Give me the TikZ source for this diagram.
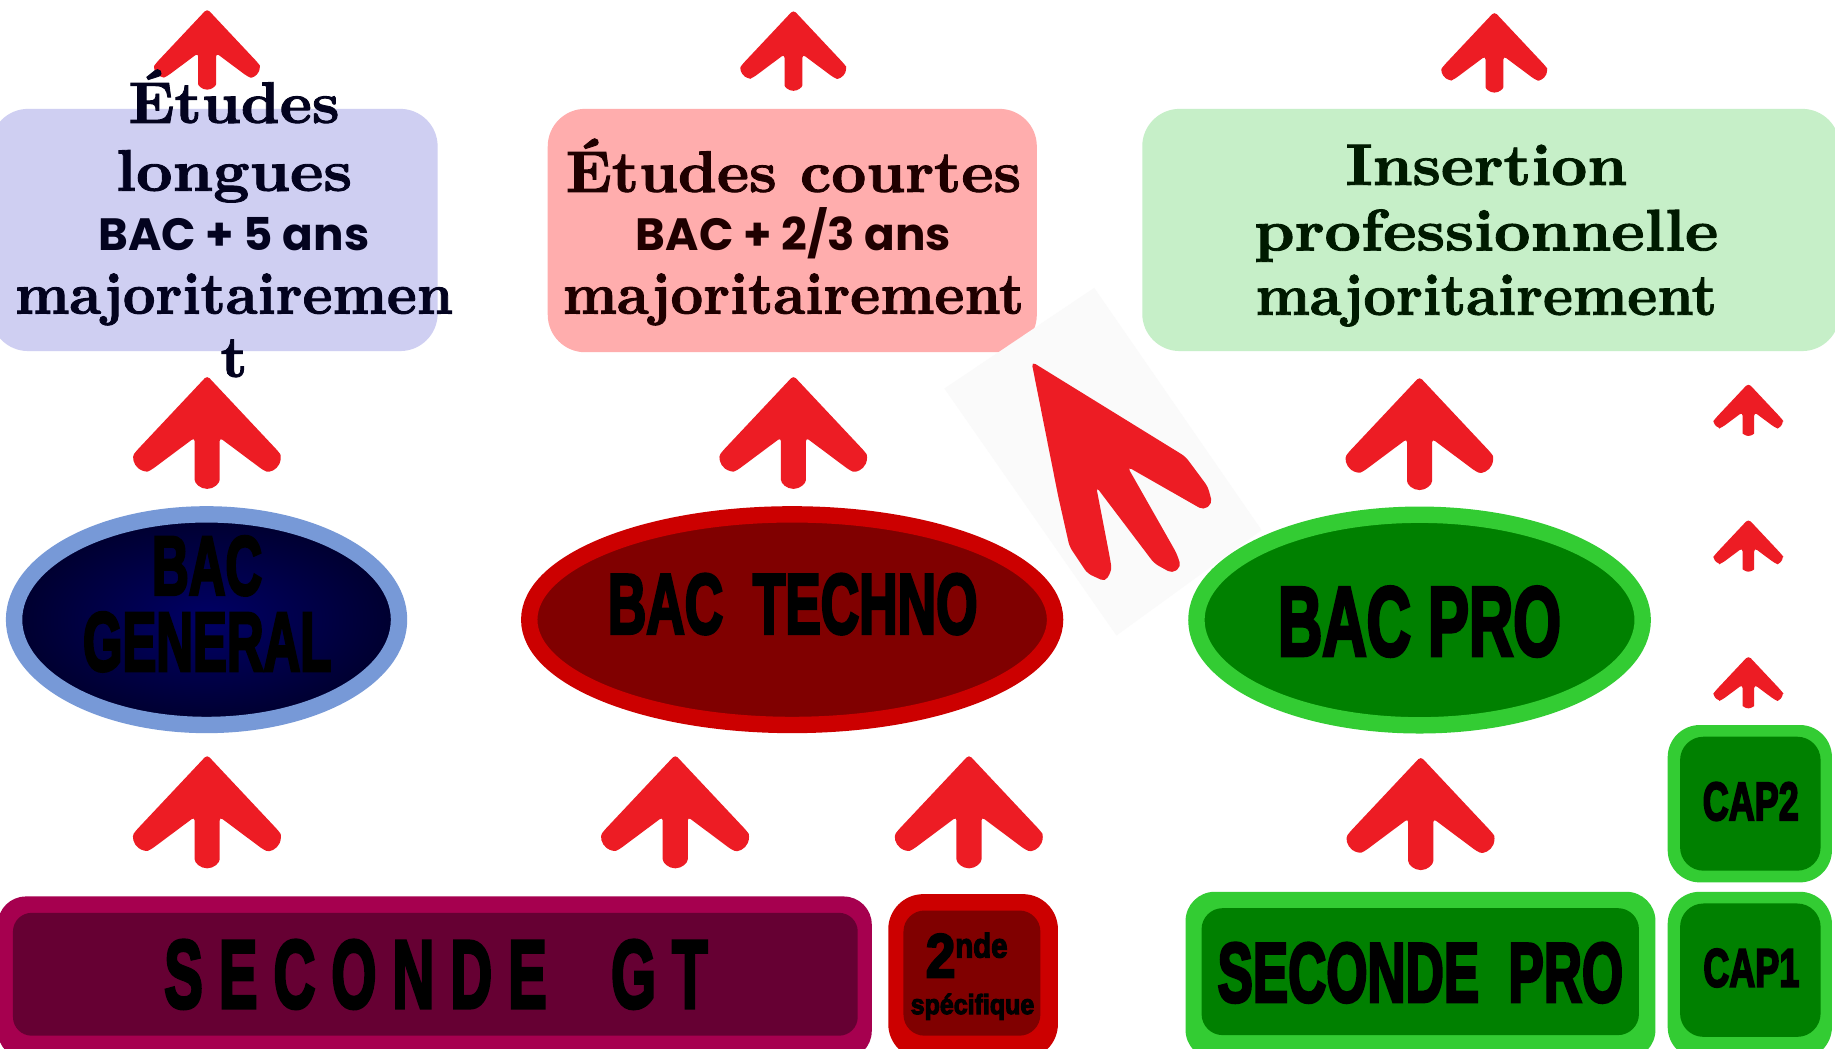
\documentclass[tikz,border=0pt]{standalone}
\usepackage{fontspec}
\usepackage{graphicx}
\usetikzlibrary{shapes.geometric}
\newfontfamily\impf{Liberation Sans}[FakeBold=4]
\newfontfamily\popf{Poppins}
\newfontface\serf{lmroman10-bold.otf}[FakeBold=1.5, FakeStretch=1.03]
\definecolor{arrowred}{HTML}{ED1C24}
\definecolor{lav}{HTML}{CFCFF2}
\definecolor{pinkbox}{HTML}{FFADAD}
\definecolor{greenbox}{HTML}{C6EFC8}
\definecolor{tnavy}{HTML}{03031F}
\definecolor{tbrown}{HTML}{1F0000}
\definecolor{tgreen}{HTML}{001A00}
\definecolor{genborder}{HTML}{7799D7}
\definecolor{navyin}{HTML}{000066}
\definecolor{navyout}{HTML}{00002E}
\definecolor{redborder}{HTML}{CC0000}
\definecolor{redfill}{HTML}{800000}
\definecolor{grborder}{HTML}{33CC33}
\definecolor{grfill}{HTML}{008000}
\definecolor{gtout}{HTML}{A6004F}
\definecolor{gtin}{HTML}{660033}
\definecolor{faint}{HTML}{FAFAFA}
\newcommand\impt[3]{\scalebox{#2}[1]{\fontsize{#1pt}{#1pt}\impf\bfseries #3}}
\newcommand\serift[2]{\scalebox{#1}[1]{\fontsize{28.5pt}{30pt}\serf #2}}
\newcommand\sanst[1]{{\fontsize{22pt}{24pt}\popf\bfseries #1}}
\tikzset{
  txt/.style={inner sep=0pt, outer sep=0pt, anchor=base},
  topbox/.style={rectangle, inner sep=0pt, outer sep=0pt, rounded corners=0.64cm},
  bacell/.style={ellipse, inner sep=0pt, outer sep=0pt, minimum height=3.6cm, line width=0.28cm},
  outerbox/.style={rectangle, inner sep=0pt, outer sep=0pt},
  innerbox/.style={rectangle, inner sep=0pt, outer sep=0pt},
  chev/.pic={
    \fill[arrowred, rounded corners=0.06cm] (0,0) -- (-71.1,75.6)
      arc[start angle=216.3, end angle=66.6, radius=12.5] -- (-12.5,62) -- (-12.5,100.8)
      arc[start angle=180, end angle=0, radius=12.5] -- (12.5,62) -- (56,94.5)
      arc[start angle=113.4, end angle=-36.3, radius=12.5] -- cycle;
  }
}
\begin{document}
\begin{tikzpicture}[x=0.02cm, y=-0.02cm]
\useasboundingbox (0,0) rectangle (1568,896);
\clip (0,0) rectangle (1568,896);
\fill[white] (0,0) rectangle (1568,896);

% top boxes
\node[topbox, fill=lav, minimum width=7.64cm, minimum height=4.14cm] (blong) at (183,196.5) {};
\node[topbox, fill=pinkbox, minimum width=8.36cm, minimum height=4.16cm] (bcourt) at (677,197) {};
\node[topbox, fill=greenbox, minimum width=11.92cm, minimum height=4.14cm] (binser) at (1274,196.5) {};

% ellipses
\node[bacell, minimum width=6.58cm, draw=genborder, inner color=navyin, outer color=navyout] (egen) at (176.5,529.5) {};
\node[bacell, minimum width=8.988cm, draw=redborder, fill=redfill] (etech) at (676.9,529.5) {};
\node[bacell, minimum width=7.628cm, draw=grborder, fill=grfill] (epro) at (1213,529.8) {};

% big diagonal arrow and its background
\fill[faint] (807,332) -- (935,246) -- (1078,453) -- (954,543) -- cycle;
\fill[arrowred, rounded corners=0.08cm] (881.4,309) -- (904.3,424.4) -- (913.9,467.1) -- (929.1,489.9)
  -- (944.4,497) -- (950.1,487) -- (948.2,475.7) -- (936.7,415.9) -- (986.3,481.4) -- (1001.6,489.9)
  -- (1009.2,484.2) -- (1005.4,472.8) -- (963.4,398.8) -- (1028.3,435.8) -- (1035.9,430.1)
  -- (1032.1,415.9) -- (1013,390.2) -- cycle;

% chevron arrows
\pic[scale=0.61] (a1) at (177,7.5) {chev};
\pic[scale=0.61] (a2) at (678,8.5) {chev};
\pic[scale=0.61] (a3) at (1277,10) {chev};
\pic[scale=0.854] (a4) at (177,321) {chev};
\pic[scale=0.854] (a5) at (678,321) {chev};
\pic[scale=0.854] (a6) at (1213,322) {chev};
\pic[scale=0.856] (a7) at (177,645) {chev};
\pic[scale=0.856] (a8) at (577,645) {chev};
\pic[scale=0.856] (a9) at (828,645) {chev};
\pic[scale=0.856] (a10) at (1214,646.5) {chev};
\pic[scale=0.397] (a11) at (1494,327.5) {chev};
\pic[scale=0.397] (a12) at (1494,443.5) {chev};
\pic[scale=0.397] (a13) at (1494,560.3) {chev};

% bottom boxes
\node[outerbox, fill=gtout, rounded corners=0.48cm, minimum width=14.94cm, minimum height=2.78cm] (sgtout) at (371.5,835.5) {};
\node[innerbox, fill=gtin, rounded corners=0.32cm, minimum width=14.44cm, minimum height=2.1cm] (sgtin) at (372,832.5) {};
\node[outerbox, fill=redborder, rounded corners=0.6cm, minimum width=2.9cm, minimum height=2.82cm] (speout) at (831.5,834.5) {};
\node[innerbox, fill=redfill, rounded corners=0.36cm, minimum width=2.34cm, minimum height=2.14cm] (spein) at (830.5,831.5) {};
\node[outerbox, fill=grborder, rounded corners=0.5cm, minimum width=8.032cm, minimum height=2.86cm] (sproout) at (1213.8,833.5) {};
\node[innerbox, fill=grfill, rounded corners=0.36cm, minimum width=7.476cm, minimum height=2.17cm] (sproin) at (1213.6,830.25) {};
\node[outerbox, fill=grborder, rounded corners=0.55cm, minimum width=2.808cm, minimum height=2.69cm] (cap2out) at (1495.2,686.75) {};
\node[innerbox, fill=grfill, rounded corners=0.4cm, minimum width=2.402cm, minimum height=2.29cm] (cap2in) at (1495.65,686.75) {};
\node[outerbox, fill=grborder, rounded corners=0.55cm, minimum width=2.808cm, minimum height=2.86cm] (cap1out) at (1495.2,833.5) {};
\node[innerbox, fill=grfill, rounded corners=0.4cm, minimum width=2.402cm, minimum height=2.28cm] (cap1in) at (1495.65,829) {};

% texts in top boxes
\node[txt, text=tnavy] (l1) at (200,105) {\serift{1.01}{Études}};
\node[txt, text=tnavy] (l2) at (200,163) {\serift{1.05}{longues}};
\node[txt, text=tnavy] (l3) at (200,214) {\sanst{BAC + 5 ans}};
\node[txt, text=tnavy] (l4) at (200,268) {\serift{0.94}{majoritairemen}};
\node[txt, text=tnavy] (l5) at (200,322) {\serift{1}{t}};
\node[txt, text=tbrown] (c1) at (678,164) {\serift{1.01}{Études courtes}};
\node[txt, text=tbrown] (c2) at (678,214) {\sanst{BAC + 2/3 ans}};
\node[txt, text=tbrown] (c3) at (678,268) {\serift{0.94}{majoritairement}};
\node[txt, text=tgreen] (i1) at (1270,158) {\serift{1.035}{Insertion}};
\node[txt, text=tgreen] (i2) at (1270,214) {\serift{1.048}{professionnelle}};
\node[txt, text=tgreen] (i3) at (1270,269) {\serift{0.94}{majoritairement}};

% texts in ellipses and bottom boxes
\node[txt] (tgen1) at (177,508) {\impt{40.5}{0.61}{BAC}};
\node[txt] (tgen2) at (177,573) {\impt{40.5}{0.61}{GENERAL}};
\node[txt] (ttech) at (677.4,541.2) {\impt{41.3}{0.627}{BAC\ \ TECHNO}};
\node[txt] (tpro) at (1213,560) {\impt{47.7}{0.626}{BAC PRO}};
\node[txt] (tsgt) at (372.5,861) {\impt{46.9}{0.6}{S E C O N D E \ \ \ G T}};
\node[txt] (tspro) at (1213.7,856) {\impt{40.9}{0.629}{SECONDE\ \ PRO}};
\node[txt] (tcap2) at (1496,700.7) {\impt{26.2}{0.668}{CAP2}};
\node[txt] (tcap1) at (1496.5,843) {\impt{26.2}{0.668}{CAP1}};
\node[txt] (tspe1) at (826,835) {\scalebox{0.86}[1]{\fontsize{30pt}{30pt}\impf\bfseries 2\raisebox{9.6pt}{\fontsize{16.6pt}{16pt}\selectfont nde}}};
\node[txt] (tspe2) at (831,866.5) {\impt{13.5}{0.9}{spécifique}};
\end{tikzpicture}
\end{document}
